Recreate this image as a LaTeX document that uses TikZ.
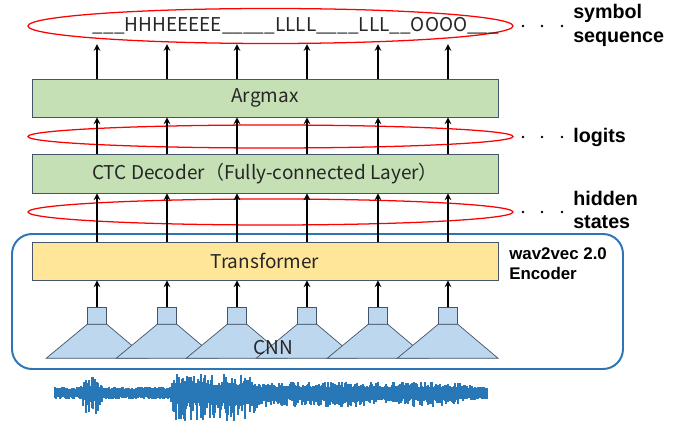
\documentclass[tikz,border=0pt]{standalone}
\usepackage{fontspec}
\setmainfont{Noto Sans CJK JP}
\newfontfamily\lblfont{Liberation Sans}
\usetikzlibrary{shapes.geometric}
\definecolor{boxgreen}{RGB}{197,224,180}
\definecolor{boxyellow}{RGB}{255,230,153}
\definecolor{cnnblue}{RGB}{189,215,238}
\definecolor{encblue}{RGB}{46,117,182}
\definecolor{edgegray}{RGB}{68,84,106}
\definecolor{wavblue}{RGB}{40,120,184}
\newcommand{\pxu}{0.025cm}

\begin{document}
\begin{tikzpicture}[x=0.025cm, y=-0.025cm, >=stealth,
  layer/.style={draw=edgegray, line width=0.6pt, minimum width={466*\pxu}, minimum height={38*\pxu},
    inner sep=0pt, font=\fontsize{13.5}{16}\selectfont, text=black!85},
  seqring/.style={draw=red, line width=0.9pt, ellipse, inner sep=0pt, minimum width={485*\pxu}},
  cnnbox/.style={draw=edgegray, fill=cnnblue, line width=0.5pt, minimum width={19*\pxu},
    minimum height={17*\pxu}, inner sep=0pt},
  flow/.style={->, line width=1.1pt},
  tag/.style={anchor=west, align=left, inner sep=0pt, font=\lblfont\bfseries\fontsize{14}{17}\selectfont}]

  \useasboundingbox (0,0) rectangle (680,425);

  \node[draw=encblue, line width=1.4pt, rounded corners=0.5cm, minimum width={611*\pxu},
    minimum height={135*\pxu}, inner sep=0pt] (enc) at (317.5,301.5) {};

  \node[seqring, minimum height={35*\pxu}] (seq) at (270.5,26) {};
  \node[seqring, minimum height={23*\pxu}] (logits) at (270.5,136.5) {};
  \node[seqring, minimum height={26*\pxu}] (hidden) at (270.5,212) {};

  \node[font=\fontsize{13.5}{16}\selectfont, text=black!85] (seqtxt) at (296,26)
    {\_\_\_HHHEEEEE\_\_\_\_\_LLLL\_\_\_\_LLL\_\_OOOO\_\_\_};

  \node[layer, fill=boxgreen] (argmax) at (265,98) {Argmax};
  \node[layer, fill=boxgreen, minimum height={39*\pxu}] (ctc) at (265,173.5)
    {CTC Decoder（Fully-connected Layer）};
  \node[layer, fill=boxyellow] (trans) at (265,261) {Transformer};

  \foreach \c [count=\i] in {97,167,237,307,378,448} {
    \node[cnnbox] (sq\i) at (\c,315.5) {};
    \filldraw[draw=edgegray, fill=cnnblue, line width=0.5pt]
      (sq\i.south west) -- ++(-41,34) -- ++(101,0) -- (sq\i.south east) -- cycle;
  }
  \node[font=\fontsize{13.5}{16}\selectfont, text=black!85] (cnn) at (273,348) {CNN};

  \foreach \i in {1,...,6} {
    \draw[flow] (sq\i.north) -- (trans.south -| sq\i);
    \draw[flow] (trans.north -| sq\i) -- (ctc.south -| sq\i);
    \draw[flow] (ctc.north -| sq\i) -- (argmax.south -| sq\i);
    \draw[flow] (argmax.north -| sq\i) -- (seq.south -| sq\i);
  }

  \foreach \y in {26,137,212}
    \foreach \d in {523,542,562}
      \fill (\d,\y) circle (1.3);

  \node[tag] (symlbl) at (573,25) {symbol\\sequence};
  \node[tag] (loglbl) at (573,137) {logits};
  \node[tag] (hidlbl) at (573,210) {hidden\\states};
  \node[tag, font=\lblfont\bfseries\fontsize{12}{14}\selectfont] (enclbl) at (509,264)
    {wav2vec 2.0\\Encoder};

  \pgfmathsetseed{17}
  \foreach \x in {55,...,487} {
    \pgfmathsetmacro{\ra}{min(1,max(0,(\x-80)/6))*(1-min(1,max(0,(\x-97)/6)))}
    \pgfmathsetmacro{\rb}{min(1,max(0,(\x-170)/6))*(1-min(1,max(0,(\x-250)/12)))}
    \pgfmathsetmacro{\rc}{min(1,max(0,(\x-255)/10))*(1-min(1,max(0,(\x-450)/30)))}
    \pgfmathsetmacro{\ru}{rnd}
    \pgfmathsetmacro{\rd}{rnd}
    \pgfmathsetmacro{\up}{3.5+(3+10*\ra+13*\rb+5*\rc)*(0.25+0.75*\ru*\ru)}
    \pgfmathsetmacro{\dn}{3.5+(3+15*\ra+23*\rb+8*\rc)*(0.25+0.75*\rd*\rd)}
    \draw[wavblue, line width=1pt] (\x,393-\up) -- (\x,393+\dn);
  }
\end{tikzpicture}
\end{document}
